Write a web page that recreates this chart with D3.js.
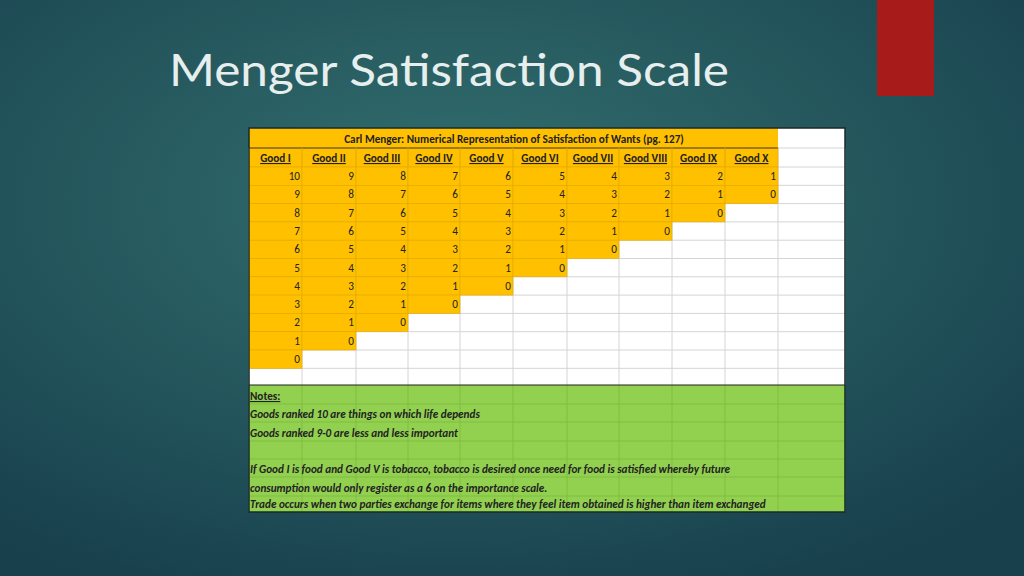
<!DOCTYPE html>
<html><head><meta charset="utf-8">
<script src="https://cdn.jsdelivr.net/npm/d3@7"></script>
<style>body{margin:0;overflow:hidden}</style>
</head><body><svg id="c" width="1024" height="576"></svg>
<script>
const goods = ['Good I','Good II','Good III','Good IV','Good V','Good VI','Good VII','Good VIII','Good IX','Good X'];
// each row of the table, left to right
const rows = [
  [10,9,8,7,6,5,4,3,2,1],
  [9,8,7,6,5,4,3,2,1,0],
  [8,7,6,5,4,3,2,1,0],
  [7,6,5,4,3,2,1,0],
  [6,5,4,3,2,1,0],
  [5,4,3,2,1,0],
  [4,3,2,1,0],
  [3,2,1,0],
  [2,1,0],
  [1,0],
  [0],
  []
];
const notes = [
  'Goods ranked 10 are things on which life depends',
  'Goods ranked 9-0 are less and less important',
  '',
  'If Good I is food and Good V is tobacco, tobacco is desired once need for food is satisfied whereby future',
  'consumption would only register as a 6 on the importance scale.',
  'Trade occurs when two parties exchange for items where they feel item obtained is higher than item exchanged'
];
const title = 'Carl Menger: Numerical Representation of Satisfaction of Wants (pg. 127)';

const svg = d3.select('#c');
const defs = svg.append('defs');
const g = defs.append('radialGradient').attr('id','bg').attr('cx','45%').attr('cy','35%').attr('r','75%');
g.append('stop').attr('offset','0%').attr('stop-color','#33706f');
g.append('stop').attr('offset','100%').attr('stop-color','#173f4c');
svg.append('rect').attr('width',1024).attr('height',576).attr('fill','url(#bg)');
svg.append('rect').attr('x',877).attr('y',0).attr('width',57).attr('height',96).attr('fill','#a81b1b');
svg.append('text').attr('x',169).attr('y',86).attr('fill','#e6eeee')
  .attr('font-family','Lato, "Open Sans", sans-serif').attr('font-weight',400).attr('font-size',45)
  .attr('textLength',560).attr('lengthAdjust','spacingAndGlyphs')
  .text('Menger Satisfaction Scale');

const colEdges = [249,302,356,408,460,513,567,619,672,725,778,845];
const x = i => colEdges[i];
const y = d3.scaleLinear().domain([0,1]).range([167,185.3]); // row index -> y
const F = 'Calibri, Carlito, "Liberation Sans", sans-serif';
const FS = 11.2;

const t = svg.append('g');
t.append('rect').attr('x',249).attr('y',128).attr('width',596).attr('height',257).attr('fill','#fff');
d3.range(0,13).forEach(r => t.append('line').attr('x1',249).attr('x2',845).attr('y1',y(r)).attr('y2',y(r)).attr('stroke','#d4d4d4'));
t.append('line').attr('x1',778).attr('x2',845).attr('y1',148).attr('y2',148).attr('stroke','#d4d4d4');
colEdges.forEach(v => t.append('line').attr('x1',v).attr('x2',v).attr('y1',148).attr('y2',385).attr('stroke','#d4d4d4'));

t.append('rect').attr('x',249).attr('y',128).attr('width',529).attr('height',39).attr('fill','#ffc000');
t.append('line').attr('x1',249).attr('x2',778).attr('y1',148).attr('y2',148).attr('stroke','#5a4a10').attr('stroke-width',1.5);
t.append('text').attr('x',514).attr('y',143).attr('text-anchor','middle').attr('font-family',F).attr('font-weight','bold').attr('font-size',FS).attr('fill','#222').text(title);
goods.forEach((s,i) => {
  t.append('rect').attr('x',x(i)).attr('y',148).attr('width',x(i+1)-x(i)).attr('height',19).attr('fill','none').attr('stroke','#e0a800').attr('stroke-width',0.6);
  t.append('text').attr('x',(x(i)+x(i+1))/2).attr('y',162).attr('text-anchor','middle').attr('font-family',F).attr('font-weight','bold').attr('font-size',FS).attr('fill','#222').attr('text-decoration','underline').text(s);
});

rows.forEach((row,r) => row.forEach((v,c) => {
  t.append('rect').attr('x',x(c)).attr('y',y(r)).attr('width',x(c+1)-x(c)).attr('height',y(r+1)-y(r))
    .attr('fill','#ffc000').attr('stroke','#e0a800').attr('stroke-width',0.6);
  t.append('text').attr('x',x(c+1)-2).attr('y',y(r)+13).attr('text-anchor','end').attr('font-family',F).attr('font-size',FS).attr('fill','#222').text(v);
}));

// notes band: row edges
const noteEdges = [385,404,422,441,459,477,496,512];
t.append('rect').attr('x',249).attr('y',385).attr('width',596).attr('height',127).attr('fill','#92d050');
noteEdges.slice(1,-1).forEach(v => t.append('line').attr('x1',249).attr('x2',845).attr('y1',v).attr('y2',v).attr('stroke','#7cb83c').attr('stroke-width',0.7));
colEdges.forEach(v => t.append('line').attr('x1',v).attr('x2',v).attr('y1',385).attr('y2',512).attr('stroke','#7cb83c').attr('stroke-width',0.7));
t.append('line').attr('x1',249).attr('x2',845).attr('y1',385).attr('y2',385).attr('stroke','#222').attr('stroke-width',1.2);
t.append('text').attr('x',250).attr('y',noteEdges[1]-4).attr('font-family',F).attr('font-weight','bold').attr('font-size',FS).attr('fill','#222').attr('text-decoration','underline').text('Notes:');
notes.forEach((s,i) => {
  t.append('text').attr('x',250).attr('y',noteEdges[i+2]-4).attr('font-family',F).attr('font-weight','bold').attr('font-style','italic').attr('font-size',FS).attr('fill','#222').text(s);
});
t.append('rect').attr('x',249).attr('y',128).attr('width',596).attr('height',384).attr('fill','none').attr('stroke','#1a2a2a').attr('stroke-width',1.5);
</script></body></html>
